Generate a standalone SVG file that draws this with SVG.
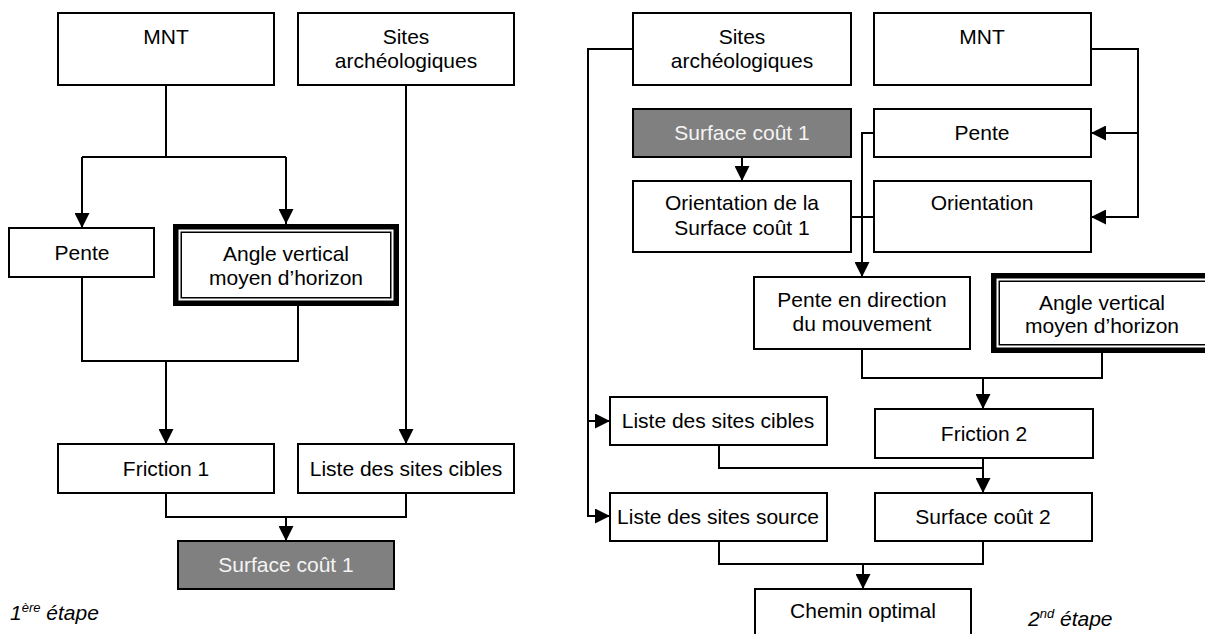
<svg xmlns="http://www.w3.org/2000/svg" width="1205" height="634" viewBox="0 0 1205 634">
<defs>
<style>
.box{fill:#fff;stroke:#000;stroke-width:2}
.grey{fill:#808080;stroke:#000;stroke-width:2}
.thick{fill:#fff;stroke:#000;stroke-width:5.5}
.thin{fill:none;stroke:#000;stroke-width:1.5}
text{font-family:"Liberation Sans",Arial,sans-serif;font-size:21px;fill:#000;text-anchor:middle}
.wt{fill:#f4f4f4}
.lab{font-style:italic;text-anchor:start}
.sup{font-size:13px}
.c{fill:none;stroke:#000;stroke-width:2}
</style>
<marker id="ah" markerUnits="userSpaceOnUse" markerWidth="15" markerHeight="15" refX="15" refY="7.5" orient="auto" viewBox="0 0 15 15">
<path d="M0,0 L15,7.5 L0,15 z" fill="#000"/>
</marker>
</defs>
<rect width="1205" height="634" fill="#fff"/>

<g id="connectors">
<!-- left -->
<path class="c" d="M166,85 V157"/>
<path class="c" d="M82,157 H286"/>
<path class="c" d="M82,157 V228" marker-end="url(#ah)"/>
<path class="c" d="M286,157 V224" marker-end="url(#ah)"/>
<path class="c" d="M82,277 V361 H298 V306"/>
<path class="c" d="M166,361 V444" marker-end="url(#ah)"/>
<path class="c" d="M406,85 V444" marker-end="url(#ah)"/>
<path class="c" d="M166,493 V517 H406 V493"/>
<path class="c" d="M286,517 V541" marker-end="url(#ah)"/>
<!-- right -->
<path class="c" d="M633,49 H588 V516 H610" marker-end="url(#ah)"/>
<path class="c" d="M588,421 H610" marker-end="url(#ah)"/>
<path class="c" d="M1091,49 H1138 V217 H1091" marker-end="url(#ah)"/>
<path class="c" d="M1138,133 H1091" marker-end="url(#ah)"/>
<path class="c" d="M742,157 V181" marker-end="url(#ah)"/>
<path class="c" d="M874,133 H862 V277" marker-end="url(#ah)"/>
<path class="c" d="M851,217 H874"/>
<path class="c" d="M862,349 V378 H1102 V353"/>
<path class="c" d="M983,378 V409" marker-end="url(#ah)"/>
<path class="c" d="M719,445 V468 H983"/>
<path class="c" d="M983,458 V493" marker-end="url(#ah)"/>
<path class="c" d="M719,541 V564 H983 V541"/>
<path class="c" d="M863,564 V589" marker-end="url(#ah)"/>
</g>

<!-- left diagram -->
<g id="mnt1"><rect class="box" x="58" y="13" width="216" height="72"/><text x="166" y="44">MNT</text></g>
<g id="sites1"><rect class="box" x="298" y="13" width="216" height="72"/><text x="406" y="44">Sites</text><text x="406" y="68">archéologiques</text></g>
<g id="pente1"><rect class="box" x="9" y="228" width="145" height="49"/><text x="82" y="260">Pente</text></g>
<g id="angle1"><rect class="thick" x="175.75" y="226.75" width="220.5" height="76.5"/><rect class="thin" x="181.25" y="232.25" width="209.5" height="65.5"/><text x="286" y="261">Angle vertical</text><text x="286" y="285">moyen d’horizon</text></g>
<g id="friction1"><rect class="box" x="58" y="444" width="216" height="49"/><text x="166" y="476">Friction 1</text></g>
<g id="cibles1"><rect class="box" x="298" y="444" width="216" height="49"/><text x="406" y="476">Liste des sites cibles</text></g>
<g id="surface1"><rect class="grey" x="178" y="541" width="216" height="48"/><text class="wt" x="286" y="572">Surface coût 1</text></g>
<g id="etape1"><text class="lab" x="10" y="620">1<tspan class="sup" dy="-8">ère</tspan><tspan dy="8"> étape</tspan></text></g>

<!-- right diagram -->
<g id="sites2"><rect class="box" x="633" y="13" width="218" height="72"/><text x="742" y="44">Sites</text><text x="742" y="68">archéologiques</text></g>
<g id="mnt2"><rect class="box" x="874" y="13" width="217" height="72"/><text x="982" y="44">MNT</text></g>
<g id="surface1b"><rect class="grey" x="633" y="109" width="218" height="48"/><text class="wt" x="742" y="140">Surface coût 1</text></g>
<g id="pente2"><rect class="box" x="874" y="109" width="217" height="48"/><text x="982" y="140">Pente</text></g>
<g id="orientsc1"><rect class="box" x="633" y="181" width="218" height="71"/><text x="742" y="210">Orientation de la</text><text x="742" y="235">Surface coût 1</text></g>
<g id="orient2"><rect class="box" x="874" y="181" width="217" height="71"/><text x="982" y="210">Orientation</text></g>
<g id="pentedir"><rect class="box" x="754" y="277" width="216" height="72"/><text x="862" y="307">Pente en direction</text><text x="862" y="331">du mouvement</text></g>
<g id="angle2"><rect class="thick" x="993.75" y="275.75" width="225" height="74.5"/><rect class="thin" x="999.25" y="281.25" width="215" height="63.5"/><text x="1102" y="310">Angle vertical</text><text x="1102" y="333">moyen d’horizon</text></g>
<g id="cibles2"><rect class="box" x="610" y="397" width="217" height="48"/><text x="718" y="428">Liste des sites cibles</text></g>
<g id="friction2"><rect class="box" x="875" y="409" width="218" height="49"/><text x="984" y="441">Friction 2</text></g>
<g id="source2"><rect class="box" x="610" y="493" width="217" height="48"/><text x="718" y="524">Liste des sites source</text></g>
<g id="surface2"><rect class="box" x="875" y="493" width="217" height="48"/><text x="983" y="524">Surface coût 2</text></g>
<g id="chemin"><rect class="box" x="755" y="589" width="216" height="60"/><text x="863" y="618">Chemin optimal</text></g>
<g id="etape2"><text class="lab" x="1028" y="626">2<tspan class="sup" dy="-8">nd</tspan><tspan dy="8"> étape</tspan></text></g>
</svg>
